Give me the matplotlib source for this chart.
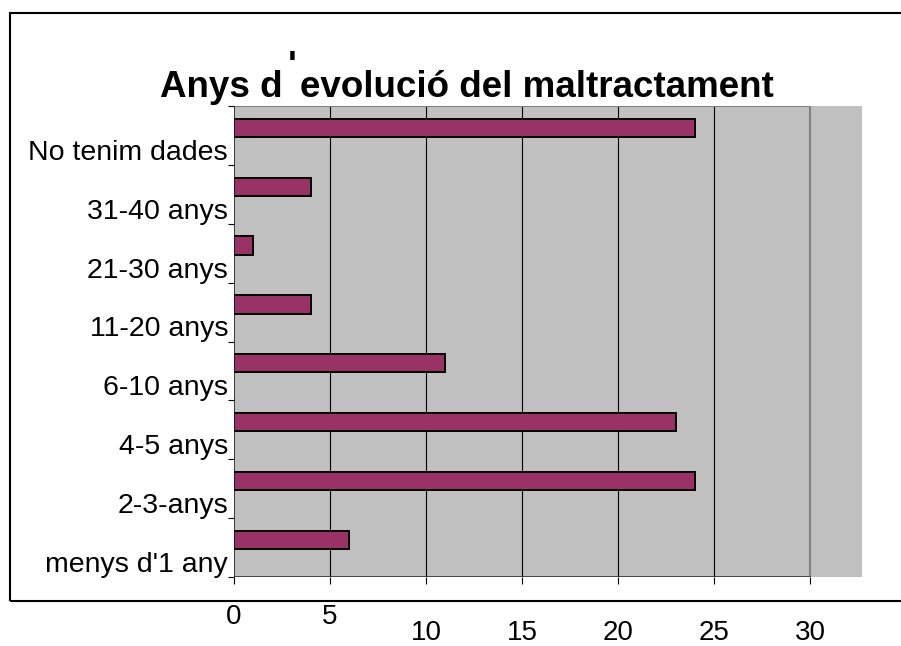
import matplotlib
matplotlib.use("Agg")
import matplotlib.pyplot as plt
from matplotlib.patches import Rectangle

# data (bottom to top as in the chart)
categories = ["menys d'1 any", "2-3-anys", "4-5 anys", "6-10 anys",
              "11-20 anys", "21-30 anys", "31-40 anys", "No tenim dades"]
values = [6, 24, 23, 11, 4, 1, 4, 24]
x_ticks = [0, 5, 10, 15, 20, 25, 30]
x_tick_rows = [0, 0, 1, 1, 1, 1, 1]   # excel staggered the labels

plt.rcParams['font.family'] = ['Liberation Sans', 'DejaVu Sans']

W, H = 901, 646
fig = plt.figure(figsize=(W / 100, H / 100), dpi=100)

# outer chart border (runs off the right edge)
fig.patches.append(Rectangle((10 / W, (H - 601) / H), 1.0, (601 - 13) / H,
                             transform=fig.transFigure, fill=False,
                             edgecolor='black', linewidth=1.5))

x_max = 30
x_lim = 32.7
ax = fig.add_axes([234 / W, (H - 577) / H, (862 - 234) / W, (577 - 106) / H])
ax.set_facecolor('#c0c0c0')
ax.set_xlim(0, x_lim)
ax.set_ylim(-0.5, len(categories) - 0.5)
for s in ax.spines.values():
    s.set_visible(False)

frac = x_max / x_lim
# gridlines + frame of the plot area
for v in x_ticks[1:-1]:
    ax.axvline(v, color='black', linewidth=0.8, zorder=1)
ax.axvline(x_max, color='#808080', linewidth=1.5, zorder=1)
ax.axhline(len(categories) - 0.5, xmax=frac, color='#808080', linewidth=1.5, zorder=1)
ax.axhline(-0.5, xmax=frac, color='#333333', linewidth=1.2, zorder=3)
ax.axvline(0, color='#222222', linewidth=1.2, zorder=3)

# bars sit in the upper part of each band
ypos = [i + 0.13 for i in range(len(categories))]
ax.barh(ypos, values, height=0.31, color='#993366', edgecolor='black',
        linewidth=1.4, zorder=2)

# ticks
ax.set_xticks(x_ticks)
ax.set_xticklabels([])
ax.set_yticks([i - 0.5 for i in range(len(categories) + 1)])
ax.set_yticklabels([])
ax.tick_params(axis='x', direction='out', length=5, width=0.8, color='black')
ax.tick_params(axis='y', direction='out', length=4.5, width=0.8, color='black')

for v, row in zip(x_ticks, x_tick_rows):
    ax.annotate(str(v), xy=(v, 0), xycoords=('data', 'axes fraction'),
                xytext=(0, -40 - 16 * row), textcoords='offset pixels',
                ha='center', va='center', fontsize=20)

for i, cat in enumerate(categories):
    ax.annotate(cat, xy=(0, i - 0.415), xycoords=('axes fraction', 'data'),
                xytext=(-6, 0), textcoords='offset pixels',
                ha='right', va='baseline', fontsize=20.5)

# title, split so the apostrophe can float above the gap like in the original
fig.text(283 / W, (H - 97) / H, "Anys d", ha='right', va='baseline',
         fontsize=26.5, fontweight='bold')
fig.text(300 / W, (H - 97) / H, "evolució del maltractament", ha='left',
         va='baseline', fontsize=26.5, fontweight='bold')
fig.text(292 / W, (H - 50) / H, "'", ha='center', va='top',
         fontsize=26.5, fontweight='bold')

fig.savefig("out.png", dpi=100)
